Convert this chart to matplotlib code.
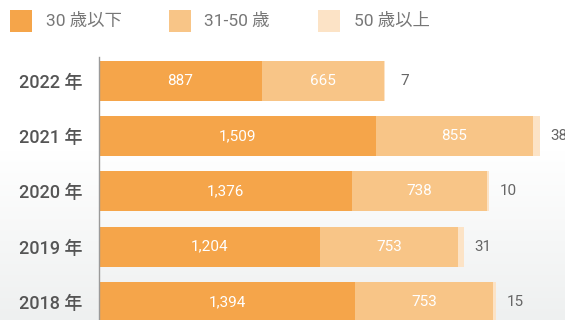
import matplotlib.pyplot as plt
import matplotlib.patches as mpatches
import numpy as np

plt.rcParams['font.family'] = ['Roboto', 'Noto Sans CJK JP', 'DejaVu Sans']

years = ['2022 年', '2021 年', '2020 年', '2019 年', '2018 年']
under_30 = [887, 1509, 1376, 1204, 1394]
age_31_50 = [665, 855, 738, 753, 753]
over_50 = [7, 38, 10, 31, 15]
series_names = ['30 歳以下', '31-50 歳', '50 歳以上']
colors = ['#F5A54A', '#F8C587', '#FCE3C6']

W, H = 565, 320
fig = plt.figure(figsize=(W / 100, H / 100), dpi=100)

# soft white-to-grey background
bg = fig.add_axes([0, 0, 1, 1], zorder=-10)
yy = np.arange(H)
t = np.clip((yy - 150) / (H - 150), 0, 1)
top = np.array([1.0, 1.0, 1.0])
bot = np.array([0xee, 0xf0, 0xf0]) / 255
img = top[None, :] * (1 - t[:, None]) + bot[None, :] * t[:, None]
bg.imshow(img[:, None, :], aspect='auto', extent=[0, 1, 0, 1], origin='upper')
bg.axis('off')

ax = fig.add_axes([99 / W, -20 / H, 1 - 99 / W, (H + 20 - 57) / H])
ax.patch.set_alpha(0)

y = np.arange(len(years))
left = np.zeros(len(years))
for vals, c in zip([under_30, age_31_50, over_50], colors):
    ax.barh(y, vals, left=left, height=0.724, color=c, linewidth=0)
    left = left + np.array(vals)

for i in range(len(years)):
    ax.text(under_30[i] / 2, y[i], f'{under_30[i]:,}', ha='center', va='center',
            color='white', fontsize=11)
    ax.text(under_30[i] + age_31_50[i] / 2, y[i], f'{age_31_50[i]:,}', ha='center',
            va='center', color='white', fontsize=11)
    ax.annotate(f'{over_50[i]:,}', (left[i], y[i]), xytext=(19, 0),
                textcoords='offset pixels', ha='center', va='center',
                color='#666666', fontsize=11, annotation_clip=False)

ax.set_xlim(0, 2538)
ax.set_ylim(4.688, -0.434)
ax.set_yticks(y)
ax.set_yticklabels(years, fontsize=13, color='#555555', fontweight='medium')
ax.tick_params(axis='y', length=0, pad=12)
ax.set_xticks([])
for s in ['top', 'right', 'bottom']:
    ax.spines[s].set_visible(False)
ax.spines['left'].set_color('#9a9a9a')
ax.spines['left'].set_linewidth(1)

# legend row
sq_x = [10, 169, 318]
txt_x = [46, 204, 354]
for name, c, sx, tx in zip(series_names, colors, sq_x, txt_x):
    fig.patches.append(mpatches.Rectangle((sx / W, 1 - 32 / H), 22 / W, 22 / H,
                                          transform=fig.transFigure, color=c, linewidth=0))
    fig.text(tx / W, 1 - 21 / H, name, ha='left', va='center', fontsize=12.5,
             color='#777777')

fig.savefig('out.png', dpi=100)
